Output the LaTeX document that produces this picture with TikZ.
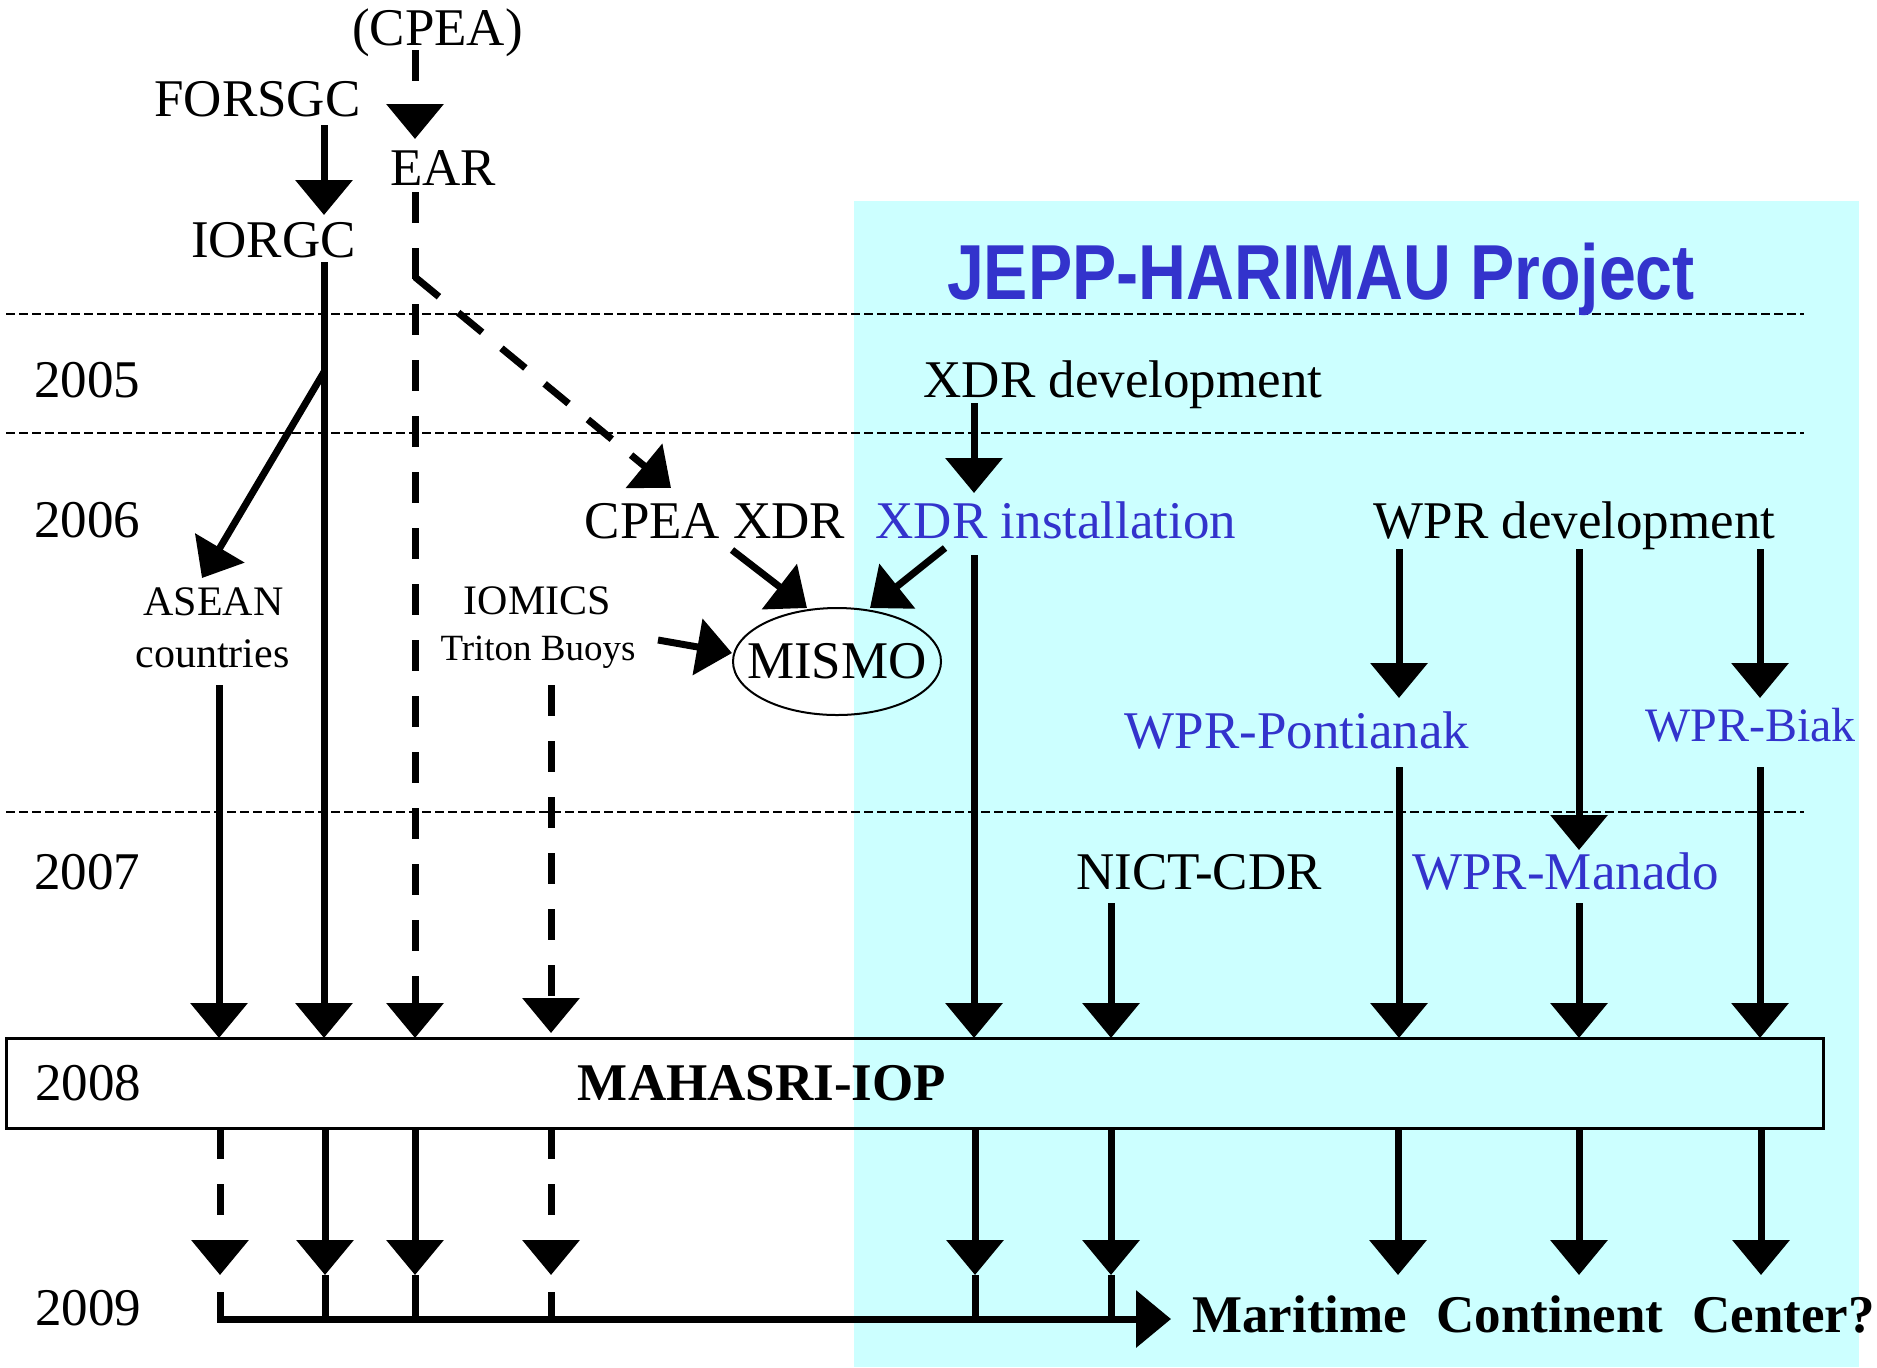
\documentclass[tikz,border=0pt]{standalone}
\usepackage{fontspec}
\usepackage{graphicx}
\setmainfont{Liberation Serif}
\newfontfamily\sansjepp{Liberation Sans}
\usetikzlibrary{arrows.meta,shapes.geometric}
\definecolor{cyanbg}{HTML}{CCFFFF}
\definecolor{bluetxt}{HTML}{3333CC}
\newcommand\szmain{\fontsize{26.5pt}{30pt}\selectfont}
\newcommand\szsmall{\fontsize{21pt}{24pt}\selectfont}
\newcommand\sztiny{\fontsize{18.5pt}{21pt}\selectfont}
\newcommand\szbiak{\fontsize{24pt}{27pt}\selectfont}
\tikzset{
  lbl/.style={anchor=base, inner sep=0pt, font=\szmain},
  sml/.style={anchor=base, inner sep=0pt, font=\szsmall},
  heavy/.style={line width=3.5pt},
  dsh/.style={line width=3.5pt, dash pattern=on 15.5pt off 12.5pt},
  tip/.style={-{Triangle[length=17.5pt,width=28pt]}},
  gridline/.style={line width=1pt, dash pattern=on 4.5pt off 2pt},
}
\begin{document}
\begin{tikzpicture}[x=0.5pt,y=-0.5pt]
\useasboundingbox (0,0) rectangle (1877,1367);
% background of the project
\fill[cyanbg] (854,201) rectangle (1859,1367);
% year separators
\coordinate (g1a) at (6,314);  \coordinate (g1b) at (1804,314);
\coordinate (g2a) at (6,433);  \coordinate (g2b) at (1804,433);
\coordinate (g3a) at (6,812);  \coordinate (g3b) at (1804,812);
\draw[gridline] (g1a) -- (g1b);
\draw[gridline] (g2a) -- (g2b);
\draw[gridline] (g3a) -- (g3b);
% IOP box
\node[draw, line width=1.5pt, minimum width=908.5pt, minimum height=45pt, inner sep=0pt] (iopbox) at (914.5,1083) {};
% texts
\node[lbl] (cpea) at (437.5,45) {(CPEA)};
\node[lbl] (forsgc) at (257.5,116) {FORSGC};
\node[lbl] (ear) at (443,185) {EAR};
\node[lbl] (iorgc) at (273.5,257) {IORGC};
\node[anchor=base, inner sep=0pt, text=bluetxt] (jepp) at (1321,299)
  {\scalebox{0.85}[1]{\sansjepp\bfseries\fontsize{39pt}{44pt}\selectfont JEPP-HARIMAU Project}};
\node[lbl] (y2005) at (87,397) {2005};
\node[lbl] (y2006) at (87,537) {2006};
\node[lbl] (y2007) at (87,889) {2007};
\node[lbl] (y2008) at (88,1100) {2008};
\node[lbl] (y2009) at (88,1325) {2009};
\node[lbl] (xdrdev) at (1123,397) {XDR development};
\node[lbl] (cpeaxdr) at (715,538) {CPEA XDR};
\node[lbl, text=bluetxt] (xdrinst) at (1056,538) {XDR installation};
\node[lbl] (wprdev) at (1574.5,538) {WPR development};
\node[sml] (asean) at (213.5,615) {ASEAN};
\node[sml] (countries) at (212.5,667) {countries};
\node[sml] (iomics) at (537.5,614) {IOMICS};
\node[anchor=base, inner sep=0pt, font=\sztiny] (triton) at (538,660) {Triton Buoys};
\node[ellipse, draw, line width=1pt, minimum width=104pt, minimum height=53.5pt, inner sep=0pt] (mismo) at (837,661.5) {};
\node[lbl] (mismotxt) at (837,678) {MISMO};
\node[lbl, text=bluetxt] (pont) at (1297,748) {WPR-Pontianak};
\node[anchor=base, inner sep=0pt, font=\szbiak, text=bluetxt] (biak) at (1750.5,741) {WPR-Biak};
\node[lbl] (nict) at (1199,889) {NICT-CDR};
\node[lbl, text=bluetxt] (manado) at (1565.5,889) {WPR-Manado};
\node[lbl, font=\szmain\bfseries] (mahasri) at (762,1100) {MAHASRI-IOP};
\node[lbl, font=\szmain\bfseries, anchor=base west] (mcc) at (1192,1332) {Maritime\hspace{0.55em}Continent\hspace{0.55em}Center?};
% connector end points (upper part)
\coordinate (c1) at (324,125);  \coordinate (c2) at (324,215);
\coordinate (e1) at (415,50);   \coordinate (e2) at (415,139);
\coordinate (i1) at (324,262);  \coordinate (i2) at (324,1038);
\coordinate (ib) at (324,372);  \coordinate (ia) at (202,578);
\coordinate (r1) at (415,192);  \coordinate (r2) at (415,1038);
\coordinate (rb) at (415,277);  \coordinate (ra) at (671,488);
\coordinate (a1) at (219,685);  \coordinate (a2) at (219,1038);
\coordinate (m1) at (551,685);  \coordinate (m2) at (551,1033);
\coordinate (x1) at (732,550);  \coordinate (x2) at (807,608);
\coordinate (xi1) at (945,548); \coordinate (xi2) at (870,608);
\coordinate (t1) at (658,640);  \coordinate (t2) at (732,653);
\coordinate (d1) at (974,403);  \coordinate (d2) at (974,493);
\coordinate (d3) at (974,555);  \coordinate (d4) at (974,1038);
\coordinate (w1) at (1399,549); \coordinate (w2) at (1399,698);
\coordinate (w3) at (1579,549); \coordinate (w4) at (1579,850);
\coordinate (w5) at (1760,549); \coordinate (w6) at (1760,698);
\coordinate (p1) at (1399,767); \coordinate (p2) at (1399,1038);
\coordinate (b1) at (1760,767); \coordinate (b2) at (1760,1038);
\coordinate (n1) at (1111,903); \coordinate (n2) at (1111,1038);
\coordinate (n3) at (1579,903); \coordinate (n4) at (1579,1038);
% upper connectors
\draw[heavy, tip] (c1) -- (c2);
\draw[dsh, tip] (e1) -- (e2);
\draw[heavy, tip] (i1) -- (i2);
\draw[heavy, tip] (ib) -- (ia);
\draw[dsh, tip] (r1) -- (r2);
\draw[dsh, tip] (rb) -- (ra);
\draw[heavy, tip] (a1) -- (a2);
\draw[dsh, tip] (m1) -- (m2);
\draw[heavy, tip] (x1) -- (x2);
\draw[heavy, tip] (xi1) -- (xi2);
\draw[heavy, tip] (t1) -- (t2);
\draw[heavy, tip] (d1) -- (d2);
\draw[heavy, tip] (d3) -- (d4);
\draw[heavy, tip] (w1) -- (w2);
\draw[heavy, tip] (w3) -- (w4);
\draw[heavy, tip] (w5) -- (w6);
\draw[heavy, tip] (p1) -- (p2);
\draw[heavy, tip] (b1) -- (b2);
\draw[heavy, tip] (n1) -- (n2);
\draw[heavy, tip] (n3) -- (n4);
% lower connectors
\foreach \xx in {325,415,975,1111}{
  \coordinate (lt\xx) at (\xx,1128);
  \coordinate (lm\xx) at (\xx,1275);
  \coordinate (lb\xx) at (\xx,1319);
  \draw[heavy, tip] (lt\xx) -- (lm\xx);
  \draw[heavy] (lm\xx) -- (lb\xx);
}
\foreach \xx in {1398,1579,1761}{
  \coordinate (lt\xx) at (\xx,1128);
  \coordinate (lm\xx) at (\xx,1275);
  \draw[heavy, tip] (lt\xx) -- (lm\xx);
}
\foreach \xx in {220,551}{
  \coordinate (lt\xx) at (\xx,1128);
  \coordinate (lm\xx) at (\xx,1275);
  \coordinate (ld\xx) at (\xx,1292);
  \coordinate (lb\xx) at (\xx,1319);
  \draw[dsh, tip] (lt\xx) -- (lm\xx);
}
\draw[heavy] (ld551) -- (lb551);
\coordinate (hend) at (1171,1319);
\draw[heavy, tip] (ld220) -- (lb220) -- (hend);
\end{tikzpicture}
\end{document}
